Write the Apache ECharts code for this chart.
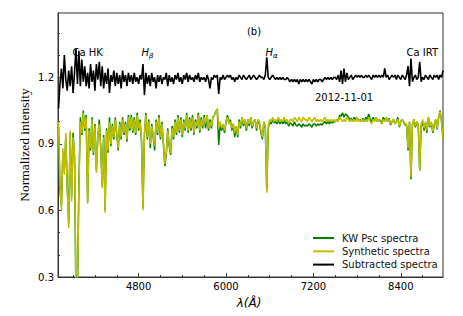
<!DOCTYPE html>
<html><head><meta charset="utf-8">
<script src="https://cdn.jsdelivr.net/npm/echarts@6/dist/echarts.min.js"></script>
<style>html,body{margin:0;padding:0;background:#fff}#c{width:463px;height:316px}</style>
</head><body><div id="c"></div>
<script>
// Wavelength grid (Angstrom)
const wavelength = [
3700,3720,3740,3760,3780,3800,3820,3840,3860,3880,
3900,3920,3940,3960,3980,4000,4020,4040,4060,4080,
4100,4120,4140,4160,4180,4200,4220,4240,4260,4280,
4300,4320,4340,4360,4380,4400,4420,4440,4460,4480,
4500,4520,4540,4560,4580,4600,4620,4640,4660,4680,
4700,4720,4740,4760,4780,4800,4820,4840,4860,4880,
4900,4920,4940,4960,4980,5000,5020,5040,5060,5080,
5100,5120,5140,5160,5180,5200,5220,5240,5260,5280,
5300,5320,5340,5360,5380,5400,5420,5440,5460,5480,
5500,5520,5540,5560,5580,5600,5620,5640,5660,5680,
5700,5720,5740,5760,5780,5800,5820,5840,5860,5880,
5900,5920,5940,5960,5980,6000,6020,6040,6060,6080,
6100,6120,6140,6160,6180,6200,6220,6240,6260,6280,
6300,6320,6340,6360,6380,6400,6420,6440,6460,6480,
6500,6520,6540,6560,6580,6600,6620,6640,6660,6680,
6700,6720,6740,6760,6780,6800,6820,6840,6860,6880,
6900,6920,6940,6960,6980,7000,7020,7040,7060,7080,
7100,7120,7140,7160,7180,7200,7220,7240,7260,7280,
7300,7320,7340,7360,7380,7400,7420,7440,7460,7480,
7500,7520,7540,7560,7580,7600,7620,7640,7660,7680,
7700,7720,7740,7760,7780,7800,7820,7840,7860,7880,
7900,7920,7940,7960,7980,8000,8020,8040,8060,8080,
8100,8120,8140,8160,8180,8200,8220,8240,8260,8280,
8300,8320,8340,8360,8380,8400,8420,8440,8460,8480,
8500,8520,8540,8560,8580,8600,8620,8640,8660,8680,
8700,8720,8740,8760,8780,8800,8820,8840,8860,8880,
8900,8920,8940,8960,8980];

// KW Psc observed spectrum (green)
const kwPscFlux = [
0.98,0.69,0.62,0.86,0.78,0.93,0.71,0.54,0.95,0.66,
0.95,0.84,0.20,0.23,0.72,1.02,0.94,1.05,0.96,1.03,
0.64,0.97,0.87,1.02,0.85,0.99,0.78,0.93,1.01,0.88,
0.71,0.94,0.60,0.97,0.86,1.02,0.89,0.99,0.92,1.02,
0.94,0.87,1.00,0.92,1.02,0.94,1.00,0.91,1.03,0.96,
1.03,0.95,1.02,0.94,1.04,0.96,1.01,0.91,0.61,0.94,
1.04,0.92,1.01,0.88,0.99,0.93,0.87,1.01,0.94,1.03,
0.92,1.00,0.90,0.80,0.85,0.97,0.89,0.85,0.98,0.92,
1.01,0.94,1.03,0.95,1.02,0.93,1.01,0.96,1.04,0.95,
1.02,0.96,1.03,0.94,1.01,0.97,1.04,0.95,1.02,0.97,
1.03,0.97,1.03,0.96,1.01,0.97,1.02,1.03,1.045,1.055,
0.895,0.99,0.96,0.98,0.95,1.00,1.03,0.99,1.01,0.96,
0.99,0.93,0.98,0.93,1.01,0.97,1.02,0.98,1.01,0.96,
1.01,0.98,1.02,0.97,1.00,1.01,0.96,1.01,0.99,0.95,
0.92,1.00,0.97,0.69,0.97,1.00,0.99,1.01,0.995,1.00,
0.99,1.01,0.99,1.00,0.99,1.005,0.99,1.00,0.98,0.995,
0.99,0.98,1.00,0.985,0.98,0.99,0.985,0.975,0.99,0.98,
0.985,0.98,0.99,0.985,0.975,0.99,0.99,0.98,0.99,0.985,
0.99,0.985,0.995,1.00,0.99,1.00,0.99,1.00,0.995,1.00,
1.00,1.01,1.00,1.03,1.025,1.04,1.02,1.035,1.03,1.02,
1.01,1.015,1.00,1.02,1.01,1.02,1.005,1.01,1.00,1.015,
1.00,1.02,1.01,1.035,1.01,1.00,1.02,1.005,1.02,1.00,
1.01,1.005,0.99,1.02,1.005,1.02,1.00,1.015,0.985,1.00,
1.01,0.99,1.00,1.02,0.975,1.00,1.01,1.00,0.985,0.985,
0.87,1.00,0.74,0.985,1.01,0.975,1.00,0.985,0.78,0.98,
1.00,0.96,0.995,0.95,1.02,0.975,0.995,0.95,0.985,1.01,
0.965,1.02,1.05,1.00,0.92];

// Synthetic spectrum (yellow)
const syntheticFlux = [
1.00,0.72,0.60,0.88,0.76,0.95,0.70,0.52,0.96,0.64,
0.93,0.85,0.20,0.22,0.70,1.00,0.95,1.04,0.97,1.02,
0.63,0.96,0.88,1.01,0.86,0.98,0.77,0.94,0.99,0.89,
0.70,0.93,0.59,0.96,0.87,1.00,0.90,0.98,0.93,1.01,
0.95,0.88,0.99,0.93,1.01,0.95,0.99,0.92,1.02,0.97,
1.02,0.96,1.01,0.95,1.03,0.97,1.00,0.92,0.60,0.95,
1.03,0.93,1.00,0.90,0.98,0.94,0.89,1.00,0.95,1.02,
0.93,0.99,0.91,0.81,0.86,0.96,0.90,0.86,0.97,0.93,
1.00,0.95,1.02,0.96,1.01,0.94,1.00,0.97,1.03,0.96,
1.01,0.97,1.02,0.95,1.00,0.98,1.03,0.96,1.01,0.98,
1.02,0.99,1.03,0.97,1.00,0.98,1.02,1.03,1.04,1.06,
0.97,1.00,0.97,0.99,0.96,1.00,1.02,0.99,1.00,0.97,
0.99,0.95,0.98,0.94,1.00,0.98,1.02,0.99,1.01,0.97,
1.01,0.99,1.02,0.98,1.00,1.01,0.97,1.01,1.00,0.96,
0.93,1.00,0.98,0.68,0.98,1.01,1.00,1.02,1.00,1.01,
1.00,1.02,1.00,1.01,1.00,1.02,1.00,1.01,0.99,1.01,
1.01,1.00,1.02,1.01,1.00,1.02,1.01,1.00,1.02,1.01,
1.01,1.00,1.02,1.01,1.00,1.01,1.02,1.00,1.01,1.00,
1.01,1.00,1.01,1.02,1.00,1.01,1.00,1.01,1.00,1.01,
1.00,1.01,1.00,1.02,1.01,1.00,1.01,1.00,1.02,1.01,
1.00,1.01,1.00,1.01,1.00,1.02,1.00,1.01,1.00,1.01,
1.00,1.01,1.00,1.02,1.00,0.99,1.01,1.00,1.02,1.00,
1.01,1.00,0.99,1.01,1.00,1.02,1.00,1.01,0.99,1.00,
1.01,0.99,1.00,1.01,0.98,1.00,1.01,1.00,0.99,0.99,
0.88,1.00,0.75,0.99,1.01,0.98,1.00,0.99,0.78,0.99,
1.01,0.97,1.00,0.96,1.02,0.98,1.00,0.955,0.99,1.01,
0.97,1.02,1.045,1.00,0.92];

// Subtracted spectrum (black, offset to 1.2)
const subtractedFlux = [
1.06,1.17,1.24,1.15,1.30,1.19,1.14,1.23,1.16,1.25,
1.13,1.22,1.33,1.17,1.32,1.16,1.28,1.18,1.25,1.16,
1.22,1.15,1.26,1.18,1.23,1.14,1.26,1.19,1.27,1.16,
1.25,1.15,1.22,1.17,1.24,1.13,1.21,1.18,1.23,1.16,
1.22,1.17,1.21,1.15,1.23,1.18,1.21,1.16,1.22,1.18,
1.21,1.17,1.22,1.18,1.20,1.17,1.21,1.19,1.26,1.12,
1.22,1.17,1.21,1.16,1.22,1.18,1.20,1.15,1.21,1.18,
1.21,1.17,1.20,1.19,1.22,1.16,1.21,1.18,1.20,1.17,
1.21,1.19,1.22,1.18,1.20,1.17,1.21,1.19,1.22,1.18,
1.21,1.19,1.20,1.18,1.21,1.19,1.22,1.18,1.20,1.19,
1.20,1.18,1.21,1.19,1.15,1.20,1.19,1.21,1.20,1.21,
1.125,1.20,1.19,1.21,1.19,1.20,1.21,1.20,1.21,1.19,
1.20,1.18,1.20,1.19,1.21,1.20,1.19,1.21,1.20,1.19,
1.20,1.21,1.19,1.20,1.21,1.20,1.19,1.20,1.21,1.20,
1.20,1.19,1.21,1.29,1.20,1.19,1.20,1.21,1.20,1.19,
1.20,1.19,1.20,1.19,1.20,1.19,1.19,1.20,1.19,1.18,
1.19,1.18,1.19,1.18,1.19,1.17,1.19,1.18,1.19,1.18,
1.19,1.18,1.19,1.18,1.17,1.19,1.18,1.19,1.18,1.19,
1.19,1.18,1.19,1.20,1.19,1.20,1.19,1.20,1.19,1.20,
1.20,1.19,1.21,1.18,1.23,1.17,1.24,1.18,1.22,1.19,
1.20,1.21,1.19,1.20,1.21,1.20,1.21,1.20,1.21,1.20,
1.20,1.21,1.20,1.21,1.20,1.19,1.21,1.20,1.21,1.20,
1.21,1.20,1.21,1.20,1.24,1.20,1.21,1.19,1.20,1.21,
1.20,1.21,1.19,1.21,1.20,1.19,1.21,1.20,1.19,1.21,
1.25,1.16,1.285,1.18,1.20,1.21,1.19,1.20,1.27,1.18,
1.20,1.19,1.21,1.20,1.19,1.21,1.20,1.19,1.21,1.20,
1.21,1.19,1.21,1.20,1.23];

const seriesNames = ['KW Psc spectra', 'Synthetic spectra', 'Subtracted spectra'];
const xMajorTicks = [4800, 6000, 7200, 8400];
const xMinorTicks = [3900, 4200, 4500, 5100, 5400, 5700, 6300, 6600, 6900, 7500, 7800, 8100, 8700];
const yMajorTicks = [0.3, 0.6, 0.9, 1.2];
const yMinorTicks = [0.4, 0.5, 0.7, 0.8, 1.0, 1.1, 1.3, 1.4];
const lineLabels = ['Ca HK', 'H', 'H', 'Ca IRT'];
const panelLabel = '(b)';
const dateLabel = '2012-11-01';

const X_MIN = 3693, X_MAX = 8980, Y_MIN = 0.3, Y_MAX = 1.49;
const FONT = '"DejaVu Sans", sans-serif';
const axisColor = '#333';

const toPairs = arr => wavelength.map((w, i) => [w, arr[i]]);

const chart = echarts.init(document.getElementById('c'), null, {renderer: 'svg'});
const lineSeries = (name, data, color, z, w) => ({
  name, type: 'line', data: toPairs(data), xAxisIndex: 0, yAxisIndex: 0,
  showSymbol: false, symbol: 'none', sampling: null, clip: true, z,
  lineStyle: {color, width: w}, itemStyle: {color}, emphasis: {disabled: true}
});

chart.setOption({
  animation: false,
  backgroundColor: '#fff',
  grid: {left: 58, right: 20, top: 13, bottom: 39, show: true, borderColor: axisColor, borderWidth: 1, outerBoundsMode: 'none'},
  xAxis: [
    {type: 'value', min: X_MIN, max: X_MAX, position: 'bottom',
     axisLine: {show: true, lineStyle: {color: axisColor}},
     axisTick: {show: true, inside: true, length: 4, customValues: xMajorTicks, lineStyle: {color: axisColor}},
     axisLabel: {customValues: xMajorTicks, margin: 4, color: '#000', fontSize: 10, fontFamily: FONT, formatter: v => String(v)},
     splitLine: {show: false}},
    {type: 'value', min: X_MIN, max: X_MAX, position: 'bottom', gridIndex: 0,
     axisLine: {show: false},
     axisTick: {show: true, inside: true, length: 2, customValues: xMinorTicks, lineStyle: {color: axisColor}},
     axisLabel: {show: false}, splitLine: {show: false}}
  ],
  yAxis: [
    {type: 'value', min: Y_MIN, max: Y_MAX, position: 'left',
     axisLine: {show: true, lineStyle: {color: axisColor}},
     axisTick: {show: true, inside: true, length: 4, customValues: yMajorTicks, lineStyle: {color: axisColor}},
     axisLabel: {customValues: yMajorTicks, margin: 4, color: '#000', fontSize: 10, fontFamily: FONT, formatter: v => v.toFixed(1)},
     splitLine: {show: false}},
    {type: 'value', min: Y_MIN, max: Y_MAX, position: 'left', gridIndex: 0,
     axisLine: {show: false},
     axisTick: {show: true, inside: true, length: 2, customValues: yMinorTicks, lineStyle: {color: axisColor}},
     axisLabel: {show: false}, splitLine: {show: false}}
  ],
  legend: {
    orient: 'vertical', left: 308, top: 228, itemWidth: 21, itemHeight: 2, itemGap: 3.3,
    icon: 'rect', data: seriesNames, selectedMode: false,
    textStyle: {fontSize: 10, fontFamily: FONT, color: '#111', padding: [0, 0, 0, 3]}
  },
  series: [
    lineSeries(seriesNames[0], kwPscFlux, '#008000', 2, 1.5),
    lineSeries(seriesNames[1], syntheticFlux, '#bfbf00', 3, 1.5),
    lineSeries(seriesNames[2], subtractedFlux, '#000000', 4, 1.6)
  ],
  graphic: [
    {type: 'text', x: 254, y: 31, style: {text: panelLabel, font: '10px ' + FONT, fill: '#000', align: 'center', verticalAlign: 'middle'}},
    {type: 'text', x: 72.5, y: 52.5, style: {text: lineLabels[0], font: '10px ' + FONT, fill: '#000', align: 'left', verticalAlign: 'middle'}},
    {type: 'text', x: 141.5, y: 52.5, style: {text: lineLabels[1], font: 'italic 10px ' + FONT, fill: '#000', align: 'left', verticalAlign: 'middle'}},
    {type: 'text', x: 149, y: 55.5, style: {text: 'β', font: 'italic 7px ' + FONT, fill: '#000', align: 'left', verticalAlign: 'middle'}},
    {type: 'text', x: 265.5, y: 52.5, style: {text: lineLabels[2], font: 'italic 10px ' + FONT, fill: '#000', align: 'left', verticalAlign: 'middle'}},
    {type: 'text', x: 273, y: 55.5, style: {text: 'α', font: 'italic 7px ' + FONT, fill: '#000', align: 'left', verticalAlign: 'middle'}},
    {type: 'text', x: 406.5, y: 52.5, style: {text: lineLabels[3], font: '10px ' + FONT, fill: '#000', align: 'left', verticalAlign: 'middle'}},
    {type: 'text', x: 315, y: 97, style: {text: dateLabel, font: '10px ' + FONT, fill: '#000', align: 'left', verticalAlign: 'middle'}},
    {type: 'text', x: 24, y: 145, rotation: Math.PI / 2, style: {text: 'Normalized intensity', font: '13.5px "Liberation Serif", serif', fill: '#000', align: 'center', verticalAlign: 'middle'}},
    {type: 'text', x: 249, y: 303, style: {text: 'λ(Å)', font: 'italic 12px ' + FONT, fill: '#000', align: 'center', verticalAlign: 'middle'}}
  ]
});
</script>
</body></html>
